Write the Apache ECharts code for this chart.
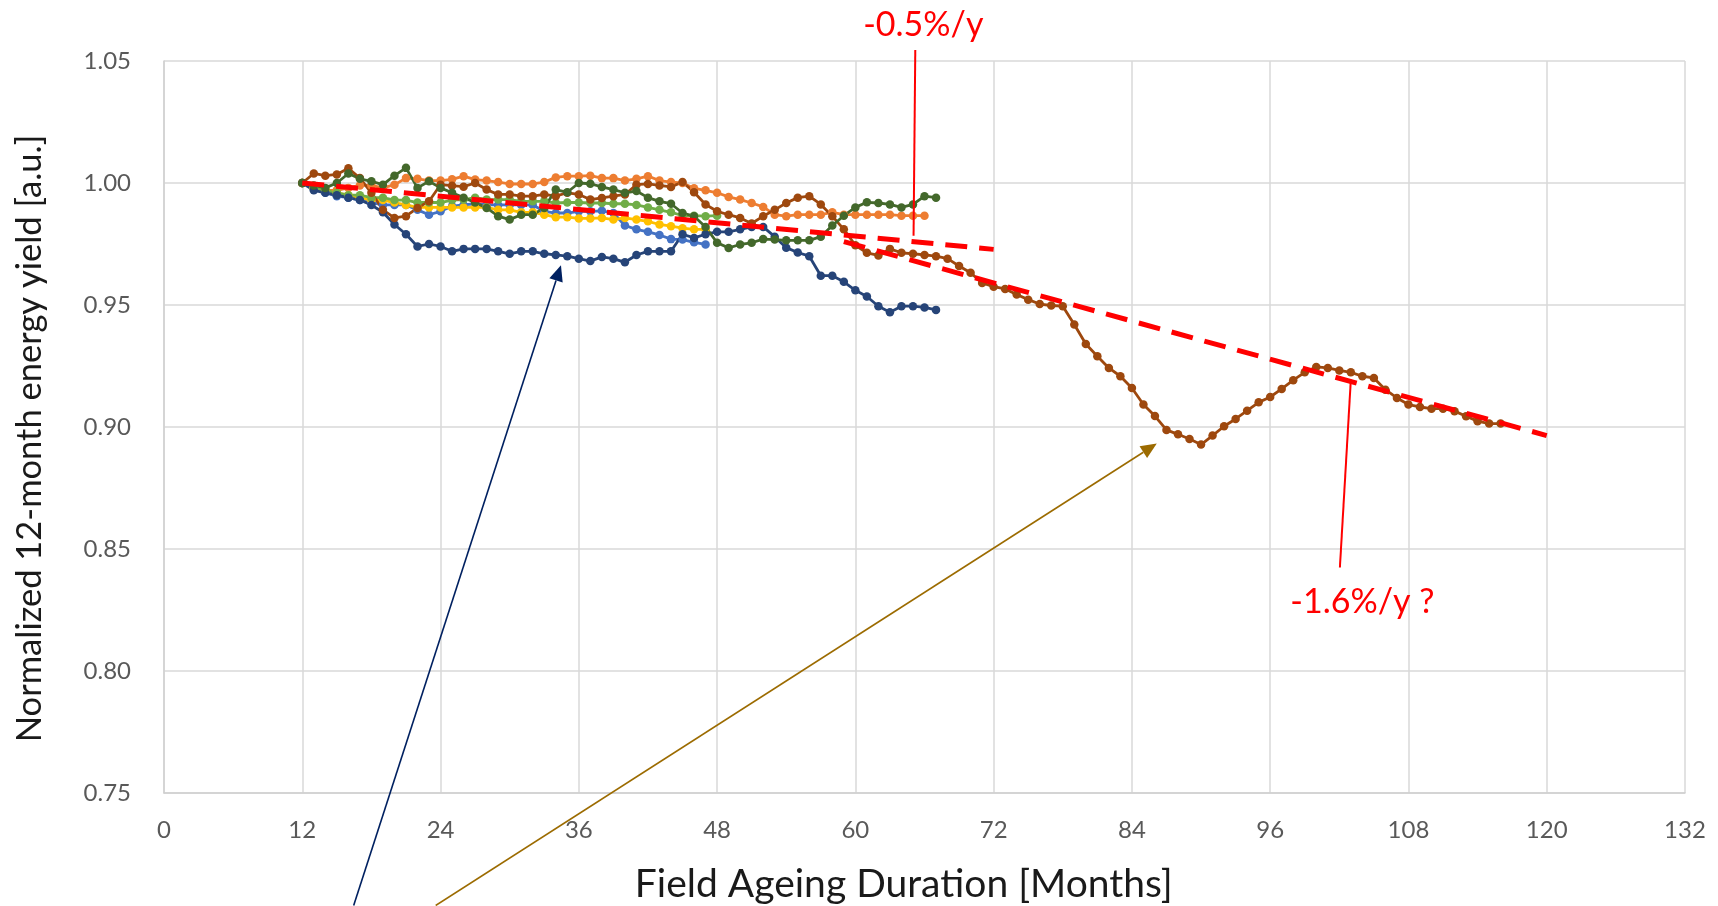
<!DOCTYPE html>
<html>
<head>
<meta charset="utf-8">
<title>Normalized 12-month energy yield</title>
<script src="https://cdn.jsdelivr.net/npm/echarts@6/dist/echarts.min.js"></script>
<style>
	html, body { margin: 0; padding: 0; background: #fff; }
	#main { width: 1718px; height: 906px; }
</style>
</head>
<body>
<div id="main"></div>
<script>
	// all series start at month 12 (first full 12-month window), one point per month
	var startMonth = 12;

	var yTicks = [0.75, 0.80, 0.85, 0.90, 0.95, 1.00, 1.05];
	var xTicks = [0, 12, 24, 36, 48, 60, 72, 84, 96, 108, 120, 132];

	var blueVals = [1.000, 0.998, 0.996, 0.9946, 0.994, 0.993, 0.992, 0.991, 0.991, 0.991, 0.989, 0.987,
		0.9884, 0.9905, 0.991, 0.9915, 0.991, 0.991, 0.991, 0.991, 0.991, 0.9884, 0.9877, 0.9877,
		0.9884, 0.9884, 0.9886, 0.9877, 0.9826, 0.981, 0.980, 0.9787, 0.977, 0.9768, 0.9757, 0.9748];

	var orangeVals = [1.000, 0.998, 0.997, 0.997, 0.998, 0.999, 0.999, 0.998, 0.9993, 1.002, 1.0017, 1.001,
		1.001, 1.0015, 1.0028, 1.0014, 1.001, 1.0004, 0.9996, 0.9996, 0.9996, 1.0004, 1.0023, 1.0028,
		1.0028, 1.003, 1.002, 1.002, 1.001, 1.0017, 1.0028, 1.001, 1.0004, 1.000, 0.9978, 0.997,
		0.996, 0.9943, 0.9932, 0.9918, 0.9902, 0.987, 0.9864, 0.987, 0.987, 0.987, 0.988, 0.987,
		0.987, 0.987, 0.987, 0.987, 0.9866, 0.9866, 0.9866];

	var yellowVals = [1.000, 0.998, 0.997, 0.996, 0.995, 0.994, 0.993, 0.993, 0.992, 0.991, 0.990, 0.990,
		0.990, 0.990, 0.990, 0.990, 0.990, 0.989, 0.989, 0.988, 0.988, 0.987, 0.986, 0.986,
		0.9855, 0.9855, 0.9857, 0.985, 0.9857, 0.985, 0.9843, 0.983, 0.9823, 0.9815, 0.981, 0.981];

	var lightGreenVals = [1.000, 0.998, 0.997, 0.996, 0.995, 0.995, 0.994, 0.994, 0.993, 0.993, 0.992, 0.992,
		0.992, 0.993, 0.9932, 0.994, 0.9932, 0.9932, 0.9932, 0.9925, 0.9925, 0.9925, 0.9918, 0.992,
		0.992, 0.9918, 0.9918, 0.9915, 0.9915, 0.991, 0.990, 0.989, 0.988, 0.9866, 0.9866, 0.9864, 0.9866];

	var navyVals = [1.000, 0.997, 0.996, 0.995, 0.994, 0.993, 0.991, 0.988, 0.983, 0.979, 0.974, 0.975,
		0.974, 0.972, 0.973, 0.973, 0.973, 0.972, 0.971, 0.972, 0.972, 0.971, 0.9705, 0.970,
		0.969, 0.968, 0.9697, 0.969, 0.9675, 0.9705, 0.972, 0.972, 0.972, 0.979, 0.9775, 0.979,
		0.980, 0.980, 0.981, 0.982, 0.982, 0.978, 0.9735, 0.9715, 0.970, 0.962, 0.962, 0.9595,
		0.956, 0.9535, 0.9495, 0.947, 0.9495, 0.9495, 0.949, 0.948];

	var brownVals = [1.000, 1.0039, 1.003, 1.0035, 1.006, 1.002, 0.996, 0.989, 0.9857, 0.9864, 0.9898, 0.9925,
		0.9993, 0.9989, 0.9985, 1.000, 0.9973, 0.9953, 0.9953, 0.9946, 0.9946, 0.9953, 0.9946, 0.996,
		0.9953, 0.9932, 0.9939, 0.9946, 0.9953, 0.9993, 0.9996, 0.999, 0.9984, 1.0004, 0.9962, 0.9912,
		0.9884, 0.987, 0.9857, 0.9834, 0.9864, 0.989, 0.9918, 0.994, 0.9946, 0.9912, 0.9864, 0.981,
		0.9745, 0.9714, 0.9703, 0.973, 0.9714, 0.971, 0.9705, 0.970, 0.969, 0.966, 0.9632, 0.959,
		0.9575, 0.9566, 0.9543, 0.9522, 0.9504, 0.9498, 0.9495, 0.942, 0.934, 0.929, 0.9242, 0.9208,
		0.916, 0.9092, 0.9045, 0.8988, 0.897, 0.8951, 0.8928, 0.8965, 0.9003, 0.9033, 0.9067, 0.9101,
		0.9123, 0.9156, 0.9192, 0.9224, 0.9246, 0.9242, 0.9232, 0.9224, 0.9208, 0.9201, 0.9153, 0.9119,
		0.9092, 0.9082, 0.9075, 0.9075, 0.9065, 0.9044, 0.9024, 0.9014, 0.9014];

	var darkGreenVals = [1.000, 0.999, 0.998, 1.000, 1.0039, 1.0017, 1.0007, 0.9993, 1.003, 1.0062, 0.998, 1.0007,
		0.998, 0.996, 0.994, 0.992, 0.9898, 0.9864, 0.985, 0.987, 0.987, 0.9898, 0.9973, 0.9962,
		1.000, 0.9997, 0.9984, 0.9973, 0.996, 0.9967, 0.994, 0.9925, 0.9915, 0.9877, 0.9864, 0.982,
		0.9755, 0.9734, 0.9748, 0.9755, 0.977, 0.9768, 0.9765, 0.9765, 0.9765, 0.978, 0.9826, 0.9866,
		0.990, 0.9921, 0.9918, 0.9912, 0.990, 0.9912, 0.9946, 0.994];

	// red dashed trend lines [month, value]
	var trendSlow = [[12, 1.000], [72, 0.9728]];
	var trendFast = [[59, 0.976], [120, 0.8965]];

	// titles and annotations, in data coordinates
	var xTitle = { text: 'Field Ageing Duration [Months]', at: [64.2, 0.7125] };
	var yTitle = { text: 'Normalized 12-month energy yield [a.u.]', at: [-11.6, 0.8953] };
	var noteSlow = { text: '-0.5%/y', at: [65.9, 1.0648], lead: [[65.2, 1.0545], [65.05, 0.9784]] };
	var noteFast = { text: '-1.6%/y ?', at: [104.0, 0.8283], lead: [[103.0, 0.9194], [102.05, 0.8424]] };
	var arrowNavy = [[16.46, 0.7039], [34.45, 0.9663]];
	var arrowGold = [[23.58, 0.7039], [86.16, 0.8932]];

	function toPairs(vals) {
		return vals.map(function (v, i) { return [startMonth + i, v]; });
	}

	function dotted(name, color, vals) {
		return {
			name: name,
			type: 'line',
			data: toPairs(vals),
			symbol: 'circle',
			symbolSize: 8.5,
			showSymbol: true,
			lineStyle: { width: 2.8, color: color },
			itemStyle: { color: color, borderWidth: 0 },
			emphasis: { disabled: true }
		};
	}

	function dashed(name, pts) {
		return {
			name: name,
			type: 'line',
			data: pts,
			symbol: 'none',
			z: 5,
			lineStyle: { width: 5, color: '#FF0000', type: [22, 12], cap: 'butt' },
			emphasis: { disabled: true }
		};
	}

	var chart = echarts.init(document.getElementById('main'), null, { renderer: 'canvas' });

	var option = {
		animation: false,
		backgroundColor: '#ffffff',
		textStyle: { fontFamily: 'Lato' },
		grid: { left: 164, right: 33, top: 61, bottom: 113, containLabel: false },
		xAxis: {
			type: 'value',
			min: xTicks[0],
			max: xTicks[xTicks.length - 1],
			interval: 12,
			axisLine: { show: true, lineStyle: { color: '#D0D0D0', width: 1.5 } },
			axisTick: { show: false },
			axisLabel: { fontSize: 24, color: '#595959', margin: 25, fontFamily: 'Lato' },
			splitLine: { show: true, lineStyle: { color: '#D9D9D9', width: 1.5 } }
		},
		yAxis: {
			type: 'value',
			min: yTicks[0],
			max: yTicks[yTicks.length - 1],
			interval: 0.05,
			axisLine: { show: true, lineStyle: { color: '#D0D0D0', width: 1.5 } },
			axisTick: { show: false },
			axisLabel: {
				fontSize: 24, color: '#595959', margin: 33, fontFamily: 'Lato',
				formatter: function (v) { return v.toFixed(2); }
			},
			splitLine: { show: true, lineStyle: { color: '#D9D9D9', width: 1.5 } }
		},
		series: [
			dotted('Module A', '#4472C4', blueVals),
			dotted('Module B', '#ED7D31', orangeVals),
			dotted('Module C', '#FFC000', yellowVals),
			dotted('Module D', '#70AD47', lightGreenVals),
			dotted('Module E', '#264478', navyVals),
			dotted('Module F', '#9E480E', brownVals),
			dotted('Module G', '#43682B', darkGreenVals),
			dashed('Trend -0.5%/y', trendSlow),
			dashed('Trend -1.6%/y', trendFast)
		]
	};
	chart.setOption(option);

	// annotations are placed after layout, via the chart's own coordinate conversion
	function px(p) { return chart.convertToPixel({ gridIndex: 0 }, p); }

	function arrow(pts, color) {
		var a = px(pts[0]), b = px(pts[1]);
		var ang = Math.atan2(b[1] - a[1], b[0] - a[0]);
		var len = 16, half = 7;
		var bx = b[0] - len * Math.cos(ang), by = b[1] - len * Math.sin(ang);
		var nx = -Math.sin(ang) * half, ny = Math.cos(ang) * half;
		return [
			{ type: 'line', silent: true, z: 20,
				shape: { x1: a[0], y1: a[1], x2: bx, y2: by },
				style: { stroke: color, lineWidth: 1.6 } },
			{ type: 'polygon', silent: true, z: 20,
				shape: { points: [[b[0], b[1]], [bx + nx, by + ny], [bx - nx, by - ny]] },
				style: { fill: color } }
		];
	}

	function note(n) {
		var t = px(n.at), l1 = px(n.lead[0]), l2 = px(n.lead[1]);
		return [
			{ type: 'line', silent: true, z: 20,
				shape: { x1: l1[0], y1: l1[1], x2: l2[0], y2: l2[1] },
				style: { stroke: '#FF0000', lineWidth: 2 } },
			{ type: 'text', silent: true, z: 20, x: t[0], y: t[1],
				style: { text: n.text, fill: '#FF0000', font: '34px Lato', align: 'center', verticalAlign: 'middle' } }
		];
	}

	function title(tt, rot, size) {
		var p = px(tt.at);
		return {
			type: 'text', silent: true, z: 20, x: p[0], y: p[1], rotation: rot,
			style: { text: tt.text, fill: '#1a1a1a', font: size + 'px Lato', align: 'center', verticalAlign: 'middle' }
		};
	}

	chart.setOption({
		graphic: [title(xTitle, 0, 39), title(yTitle, Math.PI / 2, 34.5)]
			.concat(note(noteSlow), note(noteFast), arrow(arrowNavy, '#002060'), arrow(arrowGold, '#9C6B00'))
	});
</script>
</body>
</html>
